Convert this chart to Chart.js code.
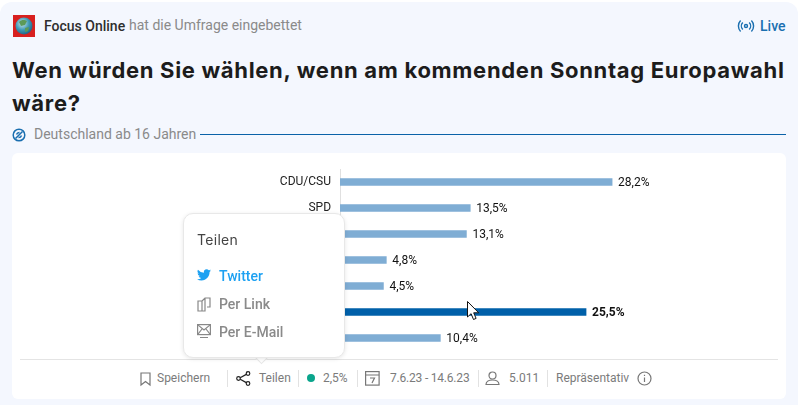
<!DOCTYPE html>
<html lang="de"><head><meta charset="utf-8">
<script src="https://cdn.jsdelivr.net/npm/chart.js@4"></script>
<style>
html,body{margin:0;padding:0;background:#fff;width:800px;height:405px;overflow:hidden;font-family:Roboto,sans-serif}
.abs{position:absolute;white-space:nowrap}
#panel{left:0;top:2px;width:798px;height:403px;background:#f4f7fe;border-radius:12px 12px 0 0}
#card{left:12px;top:153px;width:774px;height:246px;background:#fff;border-radius:6px}
#wrap{left:20px;top:169px;width:760px;height:182px}
#hr{left:20px;top:359px;width:758px;height:1px;background:#e4e4e4}
.f{top:370px;font-size:12px;line-height:16px;color:#7b7b7b}
.d{top:370px;width:1px;height:17px;background:#e2e2e2}
#pop{left:182.500px;top:212.500px;width:160px;height:143px;background:#fff;border:1px solid #e8e8e8;border-radius:10px;box-shadow:0 1px 4px rgba(0,0,0,.10)}
#tail{left:256px;top:351px;width:10px;height:10px;background:#fff;transform:rotate(45deg);border-right:1px solid #e8e8e8;border-bottom:1px solid #e8e8e8}
svg{position:absolute;overflow:visible}
</style></head><body>
<div id="panel" class="abs"></div>
<svg style="left:13px;top:15px" width="22" height="22"><defs><radialGradient id="g" cx=".4" cy=".35" r=".7"><stop offset="0" stop-color="#cfe6ee"/><stop offset=".55" stop-color="#3f9ab5"/><stop offset="1" stop-color="#1d5f80"/></radialGradient></defs><rect width="22" height="22" fill="#d8201f"/><circle cx="11" cy="11" r="8.500" fill="url(#g)"/><path d="M6 7c3-3 6-2 8-1l-2 4-4 1zM12 13l4-1-1 4-3 1z" fill="#5c9a58"/></svg>
<div class="abs" style="left:44px;top:17px;font-size:14px;line-height:18px;color:#2e2e2e;font-weight:500">Focus Online</div>
<div class="abs" style="left:129px;top:16px;font-size:14px;line-height:18px;color:#8a8a8a">hat die Umfrage eingebettet</div>
<svg style="left:738px;top:19px" width="16" height="14" fill="none" stroke="#1a6fb0" stroke-width="1.4"><circle cx="8" cy="7" r="1.500"/><path d="M4.800 3.500a5 5 0 0 0 0 7M11.200 3.500a5 5 0 0 1 0 7M2.600 1.500a8 8 0 0 0 0 11M13.400 1.500a8 8 0 0 1 0 11"/></svg>
<div class="abs" style="left:760px;top:17px;font-size:14px;line-height:18px;color:#1a6fb0;font-weight:500">Live</div>
<div class="abs" style="left:12px;top:54px;font-family:Inter,sans-serif;font-weight:700;font-size:22px;letter-spacing:.69px;line-height:33px;color:#1c1c1c;width:790px;white-space:normal">Wen würden Sie wählen, wenn am kommenden Sonntag Europawahl wäre?</div>
<svg style="left:12px;top:128px" width="14" height="14" fill="none" stroke="#1a6fb0" stroke-width="1.500"><circle cx="7" cy="7" r="5.800"/><path d="M3.500 10.500 10.500 3.500M4.500 6.500a3 3 0 0 1 3-2M9.500 7.500a3 3 0 0 1-3 2"/></svg>
<div class="abs" style="left:34px;top:125px;font-size:14px;line-height:18px;color:#8a8a8a">Deutschland ab 16 Jahren</div>
<div class="abs" style="left:200px;top:134px;width:586px;height:1px;background:#0a62a8"></div>
<div id="card" class="abs"></div>
<div id="wrap" class="abs"><canvas id="c" width="760" height="182"></canvas></div>
<div id="hr" class="abs"></div>
<svg style="left:140px;top:372px" width="11" height="14" fill="none" stroke="#777" stroke-width="1.200"><path d="M1 1h9v12L5.500 9.500 1 13z"/></svg>
<div class="abs f" style="left:157px">Speichern</div>
<div class="abs d" style="left:227px"></div>
<svg style="left:236px;top:371px" width="15" height="15" fill="none" stroke="#222" stroke-width="1.200"><circle cx="2.500" cy="7.500" r="1.800"/><circle cx="12" cy="2.500" r="1.800"/><circle cx="12" cy="12.500" r="1.800"/><path d="M4.200 6.700 10.300 3.400M4.200 8.300l6.100 3.300"/></svg>
<div class="abs f" style="left:259px">Teilen</div>
<div class="abs d" style="left:298px"></div>
<svg style="left:307px;top:374px" width="8" height="8"><circle cx="4" cy="4" r="4" fill="#0aa58c"/></svg>
<div class="abs f" style="left:323px">2,5%</div>
<div class="abs d" style="left:357px"></div>
<svg style="left:365px;top:371px" width="15" height="15" fill="none" stroke="#777" stroke-width="1.200"><rect x=".6" y=".6" width="13.500" height="13.500"/><path d="M.6 4h13.500M5 7h4.500L7 12"/></svg>
<div class="abs f" style="left:390px;letter-spacing:-.2px">7.6.23 - 14.6.23</div>
<div class="abs d" style="left:478px"></div>
<svg style="left:485px;top:371px" width="15" height="15" fill="none" stroke="#777" stroke-width="1.200"><circle cx="7.500" cy="4.500" r="3.500"/><path d="M1 13.500c0-6 13-6 13 0z"/></svg>
<div class="abs f" style="left:509px">5.011</div>
<div class="abs d" style="left:547px"></div>
<div class="abs f" style="left:556px">Repräsentativ</div>
<svg style="left:637px;top:371px" width="15" height="15" fill="none" stroke="#777" stroke-width="1.200"><circle cx="7.500" cy="7.500" r="6.500"/><path d="M7.500 6.500v4.500M7.500 3.800v1.200"/></svg>
<div id="tail" class="abs"></div>
<div id="pop" class="abs"></div>
<div id="tail2" class="abs" style="left:252px;top:350px;width:20px;height:6px;background:#fff"></div>
<div class="abs" style="left:197px;top:231px;font-family:Inter,sans-serif;font-size:14px;line-height:18px;color:#444;letter-spacing:.3px">Teilen</div>
<svg style="left:197px;top:269px" width="14" height="12" viewBox="0 0 24 20"><path fill="#1da1f2" d="M24 2.400a9.800 9.800 0 0 1-2.800.8A4.900 4.900 0 0 0 23.300.500a9.800 9.800 0 0 1-3.100 1.200 4.900 4.900 0 0 0-8.400 4.500A14 14 0 0 1 1.700.900a4.900 4.900 0 0 0 1.500 6.600 4.900 4.900 0 0 1-2.200-.6v.1a4.900 4.900 0 0 0 3.900 4.800 4.900 4.900 0 0 1-2.200.1 4.900 4.900 0 0 0 4.600 3.400A9.900 9.900 0 0 1 0 17.300 13.900 13.900 0 0 0 7.500 19.500c9.100 0 14-7.500 14-14v-.6A10 10 0 0 0 24 2.400z"/></svg>
<div class="abs" style="left:219px;top:267px;font-size:14px;line-height:18px;color:#1da1f2;font-weight:500">Twitter</div>
<svg style="left:197px;top:297px" width="14" height="15" fill="none" stroke="#888" stroke-width="1.200"><path d="M1 4h4v10H1zM5 4l3-3h5v9h-3M8 1v13H5"/></svg>
<div class="abs" style="left:219px;top:295px;font-size:14px;line-height:18px;color:#8a8a8a;font-weight:500">Per Link</div>
<svg style="left:197px;top:324px" width="14" height="14" fill="none" stroke="#888" stroke-width="1.200"><rect x=".6" y=".6" width="12.800" height="10"/><path d="M.6.600 7 6l6.400-5.400M.6 10.600 5 5M13.400 10.600 9 5M3 13.500h8"/></svg>
<div class="abs" style="left:219px;top:323px;font-size:14px;line-height:18px;color:#8a8a8a;font-weight:500">Per E-Mail</div>
<svg style="left:467px;top:301px" width="13" height="20"><path d="M.5.500v15.500l3.600-3.300 2.400 5.800 2.600-1.100-2.400-5.600h5z" fill="#fff" stroke="#111"/></svg>
<script>
const categories = ['CDU/CSU', 'SPD', '', '', '', '', ''];
const values = [28.2, 13.5, 13.1, 4.8, 4.5, 25.5, 10.4];
const highlightIndex = 5;
const baseColor = '#7fadd4';
const highlightColor = '#0060a9';

const valueLabels = {
  id: 'valueLabels',
  afterDatasetsDraw(chart) {
    const ctx = chart.ctx;
    const meta = chart.getDatasetMeta(0);
    ctx.save();
    ctx.textBaseline = 'middle';
    ctx.textAlign = 'left';
    ctx.fillStyle = '#111';
    meta.data.forEach((bar, i) => {
      ctx.font = (i === highlightIndex ? 'bold ' : '') + '12px Roboto';
      ctx.fillText(values[i].toFixed(1).replace('.', ',') + '%', bar.x + 6, bar.y + 1);
    });
    ctx.restore();
  }
};

new Chart(document.getElementById('c'), {
  type: 'bar',
  data: {
    labels: categories,
    datasets: [{
      data: values,
      backgroundColor: values.map((v, i) => i === highlightIndex ? highlightColor : baseColor),
      barThickness: 7,
      borderWidth: 0
    }]
  },
  plugins: [valueLabels],
  options: {
    indexAxis: 'y',
    responsive: false,
    animation: false,
    layout: { padding: 0 },
    plugins: { legend: { display: false }, tooltip: { enabled: false }, title: { display: false } },
    scales: {
      x: { display: false, min: 0, max: 45.6 },
      y: {
        afterFit(s) { s.width = 320; s.paddingTop = 0; s.paddingBottom = 0; },
        grid: { display: false, drawTicks: false },
        border: { display: true, color: '#e0e0e0', width: 1 },
        ticks: { color: '#222', padding: 9, font: { family: 'Roboto', size: 12 }, autoSkip: false }
      }
    }
  }
});
</script>
</body></html>
